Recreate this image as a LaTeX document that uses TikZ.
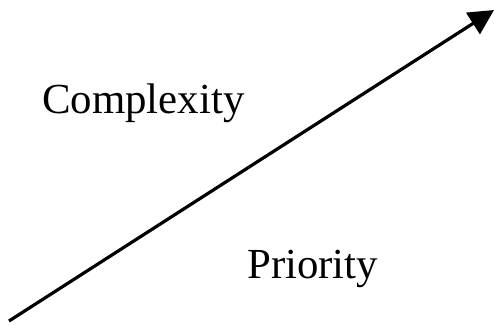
\documentclass[tikz,border=0pt]{standalone}
\usepackage{fontspec}
\setmainfont{Liberation Serif}
\usetikzlibrary{arrows.meta}
\begin{document}
\begin{tikzpicture}[x=1bp,y=-1bp,
  lbl/.style={font=\fontsize{43}{50}\selectfont, inner sep=0pt, anchor=base west},
  axis/.style={line width=3.2bp, -{Triangle[length=25bp,width=25bp]}}]
\useasboundingbox (0,0) rectangle (494,324);
\coordinate (s) at (9,321);
\coordinate (e) at (494,10);
\draw[axis] (s) -- (e);
\node[lbl] (c) at (42,113) {Complexity};
\node[lbl] (p) at (247,278) {Priority};
\end{tikzpicture}
\end{document}
